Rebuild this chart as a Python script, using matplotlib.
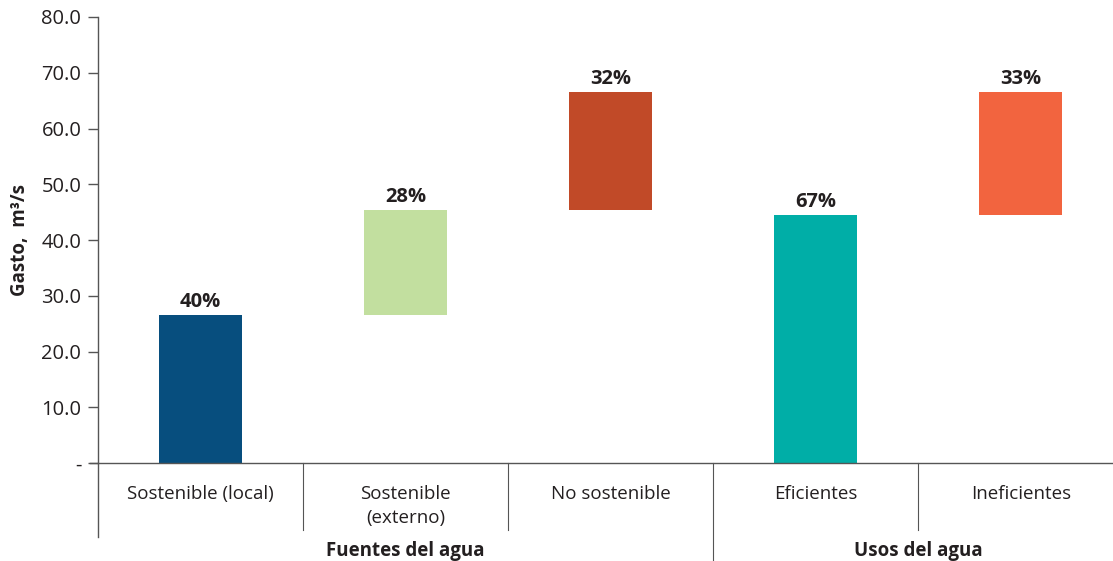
import matplotlib
matplotlib.use("Agg")
import matplotlib.pyplot as plt
from matplotlib.ticker import FuncFormatter

plt.rcParams['font.family'] = ['Open Sans', 'DejaVu Sans']

# data
categories = ['Sostenible (local)', 'Sostenible\n(externo)', 'No sostenible',
              'Eficientes', 'Ineficientes']
bottoms = [0.0, 26.5, 45.4, 0.0, 44.5]
tops = [26.5, 45.4, 66.5, 44.5, 66.5]
pct_labels = ['40%', '28%', '32%', '67%', '33%']
groups = ['Fuentes del agua', 'Usos del agua']
group_spans = [(-0.5, 2.5), (2.5, 4.5)]
y_ticks = [0, 10, 20, 30, 40, 50, 60, 70, 80]

colors = ['#074e7e', '#c2df9f', '#c14a28', '#00aea7', '#f2643f']
axis_col = '#555555'
text_col = '#231f20'

fig = plt.figure(figsize=(11.13, 5.61), dpi=100)
ax = fig.add_axes([98/1113, 1 - 463/561, 1 - 98/1113, 446/561])

x = list(range(len(categories)))
heights = [t - b for t, b in zip(tops, bottoms)]
ax.bar(x, heights, bottom=bottoms, width=0.405, color=colors, zorder=2)

for xi, t, lab in zip(x, tops, pct_labels):
    ax.text(xi, t + 0.6, lab, ha='center', va='bottom', fontsize=14.5,
            fontweight='bold', color=text_col)

ax.set_xlim(-0.5, 4.45)
ax.set_ylim(0, 80)
ax.set_yticks(y_ticks)
ax.yaxis.set_major_formatter(FuncFormatter(lambda v, p: '-' if v == 0 else f'{v:.1f}'))
ax.tick_params(axis='y', length=7, width=1, color=axis_col, labelsize=14.5,
               labelcolor=text_col, pad=5)
ax.set_xticks(x)
ax.set_xticklabels(categories, fontsize=13.5, color=text_col, va='top',
                   linespacing=1.4)
ax.tick_params(axis='x', length=0, pad=16)

for s in ['top', 'right']:
    ax.spines[s].set_visible(False)
for s in ['left', 'bottom']:
    ax.spines[s].set_color(axis_col)
    ax.spines[s].set_linewidth(1)
ax.spines['bottom'].set_bounds(-0.54, 4.45)

ax.set_ylabel('Gasto,  m³/s', fontsize=13.5, fontweight='bold', color=text_col,
              labelpad=8)

# category separators below the axis
trans = ax.get_xaxis_transform()
ax.plot([-0.5, -0.5], [0, -74/446], transform=trans, color=axis_col, lw=1, clip_on=False)
for b in [0.5, 1.5, 3.5]:
    ax.plot([b, b], [0, -67/446], transform=trans, color=axis_col, lw=0.8, clip_on=False)
ax.plot([2.5, 2.5], [0, -100/446], transform=trans, color=axis_col, lw=0.8, clip_on=False)

# group labels
for g, (a, b) in zip(groups, group_spans):
    ax.text((a + b) / 2, -88/446, g, transform=trans, ha='center', va='center',
            fontsize=13.5, fontweight='bold', color=text_col)

fig.savefig('out.png', dpi=100)
